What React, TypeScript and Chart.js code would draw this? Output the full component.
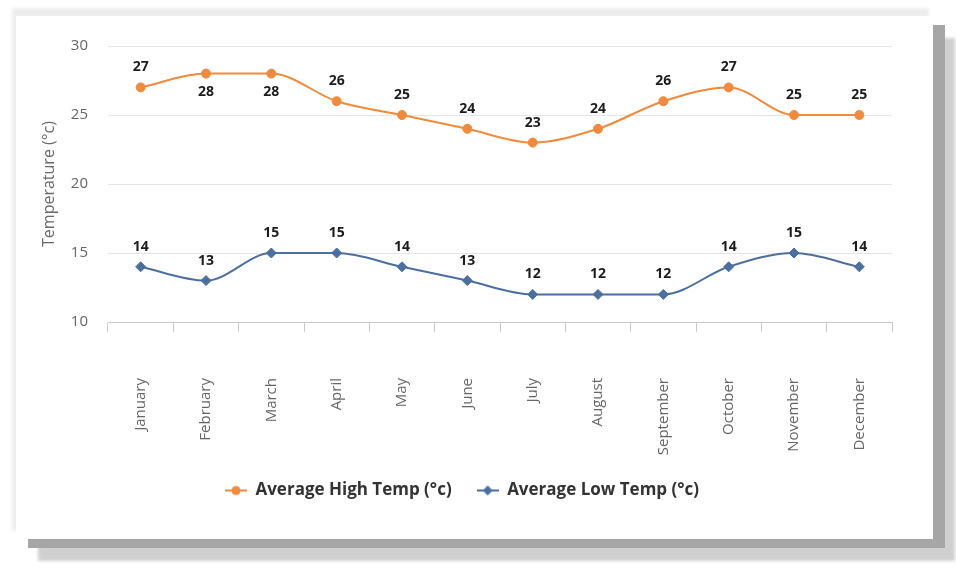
import React, { useEffect, useRef } from "react";
import { Chart, registerables } from "chart.js";

Chart.register(...registerables);

const months = ["January","February","March","April","May","June","July","August","September","October","November","December"];
const highTemps = [27, 28, 28, 26, 25, 24, 23, 24, 26, 27, 25, 25];
const lowTemps = [14, 13, 15, 15, 14, 13, 12, 12, 12, 14, 15, 14];
const yTicks = [10, 15, 20, 25, 30];
const seriesNames = ["Average High Temp (°c)", "Average Low Temp (°c)"];
const yTitle = "Temperature (°c)";

const ORANGE = "#F08A3C";
const BLUE = "#4B6F9F";
const FONT = "'Open Sans', 'Noto Sans', sans-serif";

function makeIcon(color: string, style: "circle" | "diamond") {
  const c = document.createElement("canvas");
  c.width = 22;
  c.height = 12;
  const ctx = c.getContext("2d")!;
  ctx.strokeStyle = color;
  ctx.lineWidth = 2;
  ctx.beginPath();
  ctx.moveTo(0, 6);
  ctx.lineTo(22, 6);
  ctx.stroke();
  ctx.fillStyle = color;
  ctx.beginPath();
  if (style === "circle") {
    ctx.arc(11, 6, 4.5, 0, Math.PI * 2);
  } else {
    ctx.moveTo(11, 1);
    ctx.lineTo(16, 6);
    ctx.lineTo(11, 11);
    ctx.lineTo(6, 6);
    ctx.closePath();
  }
  ctx.fill();
  return c;
}

const dataLabelPlugin = {
  id: "dataLabels",
  afterDatasetsDraw(chart: any) {
    const ctx = chart.ctx;
    const top = chart.chartArea.top;
    ctx.save();
    ctx.font = `bold 14px ${FONT}`;
    ctx.fillStyle = "#1c1c1c";
    ctx.textAlign = "center";
    ctx.textBaseline = "middle";
    chart.data.datasets.forEach((ds: any, di: number) => {
      const meta = chart.getDatasetMeta(di);
      meta.data.forEach((pt: any, i: number) => {
        let y = pt.y - 20;
        if (y - 8 < top) y = pt.y + 18;
        ctx.fillText(String(ds.data[i]), pt.x, y);
      });
    });
    ctx.restore();
  },
};

export default function App() {
  const ref = useRef<HTMLCanvasElement | null>(null);

  useEffect(() => {
    if (!ref.current) return;
    const icons = [makeIcon(ORANGE, "circle"), makeIcon(BLUE, "diamond")];
    const chart = new Chart(ref.current, {
      type: "line",
      data: {
        labels: months,
        datasets: [
          {
            label: seriesNames[0],
            data: highTemps,
            borderColor: ORANGE,
            backgroundColor: ORANGE,
            pointBackgroundColor: ORANGE,
            pointBorderColor: ORANGE,
            pointRadius: 4.5,
            pointBorderWidth: 1,
            pointStyle: "circle",
            borderWidth: 2,
            cubicInterpolationMode: "monotone",
          },
          {
            label: seriesNames[1],
            data: lowTemps,
            borderColor: BLUE,
            backgroundColor: BLUE,
            pointBackgroundColor: BLUE,
            pointBorderColor: BLUE,
            pointRadius: 5,
            pointBorderWidth: 1,
            pointStyle: "rectRot",
            borderWidth: 2,
            cubicInterpolationMode: "monotone",
          },
        ],
      },
      options: {
        animation: false,
        responsive: false,
        maintainAspectRatio: false,
        layout: { padding: { top: 30, right: 41, bottom: 30, left: 16 } },
        plugins: {
          tooltip: { enabled: false },
          legend: {
            position: "bottom",
            labels: {
              usePointStyle: true,
              pointStyleWidth: 22,
              padding: 25,
              color: "#333333",
              font: { family: FONT, size: 17, weight: "bold" },
              generateLabels: () =>
                seriesNames.map((name, i) => ({
                  text: name,
                  pointStyle: icons[i] as any,
                  fillStyle: i === 0 ? ORANGE : BLUE,
                  strokeStyle: i === 0 ? ORANGE : BLUE,
                  lineWidth: 0,
                  hidden: false,
                  datasetIndex: i,
                  fontColor: "#333333",
                })),
            },
            onClick: () => {},
          },
        },
        scales: {
          x: {
            offset: true,
            grid: {
              offset: true,
              drawOnChartArea: false,
              drawTicks: true,
              tickLength: 10,
              color: "#C9C9C9",
            },
            border: { display: true, color: "#C9C9C9" },
            ticks: {
              autoSkip: false,
              minRotation: 90,
              maxRotation: 90,
              padding: 46,
              color: "#666666",
              font: { family: FONT, size: 15 },
            },
            afterFit: (scale: any) => {
              scale.height = 135;
            },
          },
          y: {
            min: 10,
            max: 30,
            afterBuildTicks: (scale: any) => {
              scale.ticks = yTicks.map((v) => ({ value: v }));
            },
            grid: { color: "#E6E6E6", drawTicks: false },
            border: { display: false },
            ticks: {
              padding: 20,
              color: "#666666",
              font: { family: FONT, size: 15 },
            },
            title: {
              display: true,
              text: yTitle,
              color: "#6a6a6a",
              font: { family: FONT, size: 16 },
              padding: { top: 8, bottom: 0 },
            },
            afterFit: (scale: any) => {
              scale.width = 76;
            },
          },
        },
      },
      plugins: [dataLabelPlugin],
    });
    return () => chart.destroy();
  }, []);

  return (
    <div
      style={{
        position: "fixed",
        left: 0,
        top: 0,
        width: 956,
        height: 571,
        background: "#ffffff",
        overflow: "hidden",
      }}
    >
      <div
        style={{
          position: "absolute",
          left: 16,
          top: 16,
          width: 917,
          height: 523,
          background: "#ffffff",
          boxShadow:
            "12px 9px 0 0 #a6a6a6, 22px 22px 3px 0 #d0d0d0, -4px -8px 3px 0 #ededed",
        }}
      >
        <canvas ref={ref} width={917} height={523} style={{ display: "block" }} />
      </div>
    </div>
  );
}
